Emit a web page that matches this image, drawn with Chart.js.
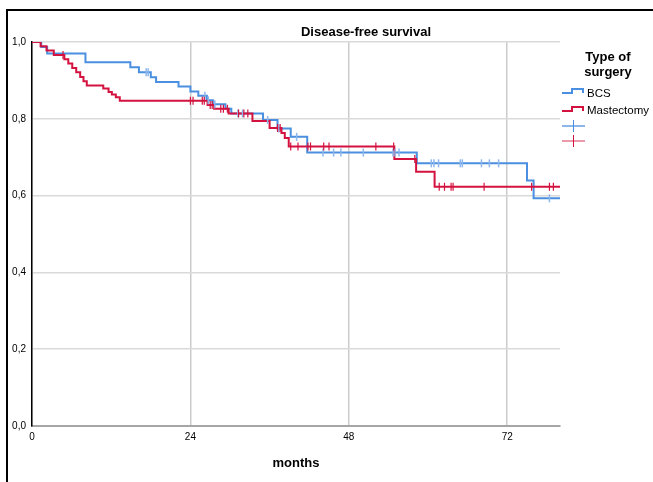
<!DOCTYPE html>
<html>
<head>
<meta charset="utf-8">
<script src="https://cdn.jsdelivr.net/npm/chart.js@4.4.1/dist/chart.umd.min.js"></script>
<style>
  html, body { margin: 0; padding: 0; background: #fff; }
  #wrap { position: relative; width: 653px; height: 482px; }
</style>
</head>
<body>
<div id="wrap"><canvas id="grafico" width="653" height="482"></canvas></div>
<script>
// ---- DATA ----
const chartTitle = "Disease-free survival";
const legendTitle = ["Type of", "surgery"];
const groups = ["BCS", "Mastectomy"];
const xTitle = "months";
const xTicks = [0, 24, 48, 72];
const yTicks = [0, 0.2, 0.4, 0.6, 0.8, 1.0];
const followUpMax = 80;

// BCS: event times (months) and survival right after each event
const bcsTimes = [1.4, 2.3, 8.1, 14.9, 16.2, 18.0, 18.8, 22.2, 24.0, 25.2, 26.5, 27.4, 29.3, 30.2, 35.0, 37.2, 39.2, 41.7, 58.3, 75.0, 76.0];
const bcsSurv  = [0.987, 0.970, 0.947, 0.934, 0.921, 0.908, 0.896, 0.884, 0.871, 0.860, 0.848, 0.838, 0.826, 0.814, 0.797, 0.775, 0.753, 0.712, 0.684, 0.639, 0.593];
const bcsCensored = [17.3, 17.6, 26.2, 26.7, 27.7, 31.2, 31.9, 35.7, 37.4, 40.1, 44.1, 45.7, 46.8, 50.2, 54.7, 55.0, 55.6, 60.5, 60.9, 61.6, 64.9, 65.2, 68.1, 69.3, 70.7, 78.4];

// Mastectomy
const mastTimes = [1.3, 2.2, 3.3, 4.9, 5.5, 6.1, 6.7, 7.3, 7.8, 8.3, 10.8, 11.6, 12.1, 12.7, 13.3, 26.6, 27.6, 29.8, 33.4, 36.0, 37.8, 38.3, 38.9, 54.9, 58.2, 61.0];
const mastSurv  = [0.989, 0.978, 0.966, 0.955, 0.944, 0.932, 0.921, 0.909, 0.898, 0.887, 0.879, 0.870, 0.863, 0.856, 0.847, 0.836, 0.826, 0.814, 0.794, 0.776, 0.763, 0.750, 0.728, 0.695, 0.662, 0.623];
const mastCensored = [4.7, 24.0, 24.4, 25.8, 26.1, 27.0, 27.3, 28.6, 29.0, 29.6, 31.3, 32.1, 32.7, 37.2, 37.6, 39.2, 40.3, 41.8, 42.2, 44.2, 45.0, 52.1, 54.8, 58.0, 61.7, 62.5, 63.5, 63.8, 68.5, 75.7, 78.4, 79.0];

// ---- COLOURS ----
const BLUE = "#4a8fe0";
const BLUE_LIGHT = "#8db6ec";
const RED = "#d3123f";
const RED_LIGHT = "#eb9aac";
const FONT = "'Liberation Sans', Arial, sans-serif";

// survival value in force at time t
function survAt(times, surv, t) {
  let s = 1;
  for (let i = 0; i < times.length; i++) {
    if (times[i] <= t) s = surv[i];
  }
  return s;
}

function kmPoints(times, surv) {
  const pts = [{ x: 0, y: 1 }];
  times.forEach((t, i) => pts.push({ x: t, y: surv[i] }));
  pts.push({ x: followUpMax, y: surv[surv.length - 1] });
  return pts;
}

function censorPoints(cens, times, surv) {
  return cens.map(t => ({ x: t, y: survAt(times, surv, t) }));
}

// ---- frame, title and legend ----
const extras = {
  id: "extras",
  beforeDraw(chart) {
    const ctx = chart.ctx;
    ctx.save();
    ctx.fillStyle = "#000";
    ctx.fillRect(6, 9, 2, 482);
    ctx.fillRect(6, 9, 653, 2);
    ctx.restore();
  },
  afterDraw(chart) {
    const ctx = chart.ctx;
    ctx.save();
    ctx.fillStyle = "#000";
    ctx.textAlign = "center";
    ctx.textBaseline = "middle";
    ctx.font = "bold 13px " + FONT;
    ctx.fillText(chartTitle, 366, 32);
    ctx.fillText(legendTitle[0], 608, 57);
    ctx.fillText(legendTitle[1], 608, 72);

    // step icons
    ctx.lineWidth = 2;
    [[BLUE, 93, 89], [RED, 111, 107]].forEach(([c, lo, hi]) => {
      ctx.strokeStyle = c;
      ctx.beginPath();
      ctx.moveTo(562, lo);
      ctx.lineTo(572, lo);
      ctx.lineTo(572, hi);
      ctx.lineTo(583, hi);
      ctx.lineTo(583, lo);
      ctx.stroke();
    });
    ctx.textAlign = "left";
    ctx.font = "11.5px " + FONT;
    ctx.fillText(groups[0], 587, 94);
    ctx.fillText(groups[1], 587, 111);

    // censor icons
    [[BLUE_LIGHT, BLUE, 126], [RED_LIGHT, RED, 141]].forEach(([cl, c, y]) => {
      ctx.strokeStyle = cl;
      ctx.lineWidth = 2;
      ctx.beginPath();
      ctx.moveTo(562, y);
      ctx.lineTo(585, y);
      ctx.stroke();
      ctx.strokeStyle = c;
      ctx.lineWidth = 1;
      ctx.beginPath();
      ctx.moveTo(573.5, y - 6);
      ctx.lineTo(573.5, y + 6);
      ctx.stroke();
    });
    ctx.restore();
  }
};

const fmt = v => v.toFixed(1).replace(".", ",");

new Chart(document.getElementById("grafico"), {
  type: "line",
  data: {
    datasets: [
      {
        label: groups[0],
        data: kmPoints(bcsTimes, bcsSurv),
        borderColor: BLUE,
        borderWidth: 2,
        stepped: true,
        pointRadius: 0,
        fill: false,
        order: 3
      },
      {
        label: groups[1],
        data: kmPoints(mastTimes, mastSurv),
        borderColor: RED,
        borderWidth: 2,
        stepped: true,
        pointRadius: 0,
        fill: false,
        order: 2
      },
      {
        label: groups[0] + " censored",
        data: censorPoints(bcsCensored, bcsTimes, bcsSurv),
        showLine: false,
        pointStyle: "line",
        rotation: 90,
        pointRadius: 4,
        borderColor: BLUE_LIGHT,
        borderWidth: 1.5,
        order: 1
      },
      {
        label: groups[1] + " censored",
        data: censorPoints(mastCensored, mastTimes, mastSurv),
        showLine: false,
        pointStyle: "line",
        rotation: 90,
        pointRadius: 4,
        borderColor: RED,
        borderWidth: 1.2,
        order: 0
      }
    ]
  },
  options: {
    responsive: false,
    animation: false,
    events: [],
    layout: { padding: { top: 42, right: 93, left: 0, bottom: 0 } },
    plugins: { legend: { display: false }, tooltip: { enabled: false } },
    scales: {
      x: {
        type: "linear",
        min: 0,
        max: followUpMax,
        afterBuildTicks: s => { s.ticks = xTicks.map(v => ({ value: v })); },
        afterFit: s => { s.height = 56; },
        grid: { color: "#cccccc", lineWidth: 1.5, drawTicks: false },
        border: { color: "#a6a6a6", width: 2 },
        ticks: { color: "#000", padding: 5, font: { size: 10, family: FONT }, maxRotation: 0 },
        title: { display: true, text: xTitle, color: "#000", font: { size: 13, weight: "bold", family: FONT }, padding: { top: 0, bottom: 11 } }
      },
      y: {
        min: 0,
        max: 1,
        afterBuildTicks: s => { s.ticks = yTicks.map(v => ({ value: v })); },
        afterFit: s => { s.width = 32; },
        grid: { color: "#dadada", lineWidth: 1.5, drawTicks: false },
        border: { color: "#000", width: 1.5 },
        ticks: { color: "#000", padding: 6, font: { size: 10, family: FONT }, callback: v => fmt(v) }
      }
    }
  },
  plugins: [extras]
});
</script>
</body>
</html>
